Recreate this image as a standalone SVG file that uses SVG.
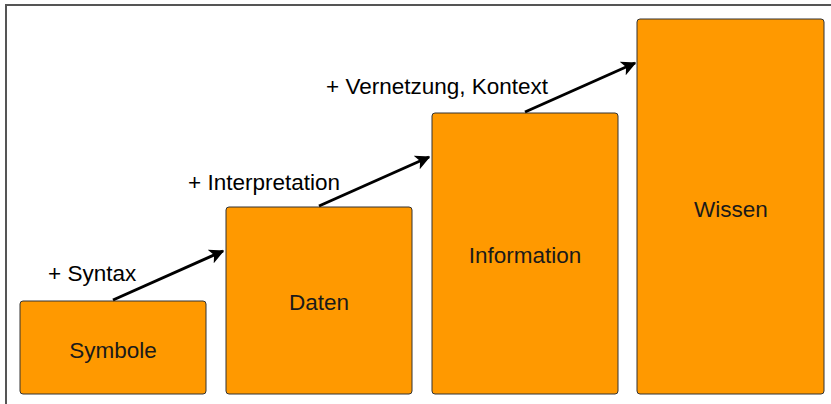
<svg xmlns="http://www.w3.org/2000/svg" width="831" height="404" viewBox="0 0 831 404">
  <style>
    .step { fill: #ff9900; stroke: #333333; stroke-width: 1; }
    .name { font-family: "Liberation Sans", Arial, sans-serif; font-size: 22.5px; fill: #1a1a1a; text-anchor: middle; }
    .label { font-family: "Liberation Sans", Arial, sans-serif; font-size: 22.5px; fill: #000000; }
    .link { stroke: #000000; stroke-width: 3; fill: none; marker-end: url(#head); }
  </style>
  <defs>
    <marker id="head" viewBox="0 0 10 10" refX="9" refY="5" markerWidth="5" markerHeight="5" orient="auto" markerUnits="strokeWidth">
      <path d="M0,0 L10,5 L0,10 L2.5,5 Z" fill="#000000"/>
    </marker>
  </defs>

  <rect x="0" y="0" width="831" height="404" fill="#ffffff"/>
  <!-- frame -->
  <path d="M6,404 L6,5 L831,5" fill="none" stroke="#555555" stroke-width="2"/>

  <g id="symbole">
    <rect class="step" x="20" y="301" width="186" height="93" rx="3"/>
    <text class="name" x="113" y="358">Symbole</text>
  </g>
  <g id="daten">
    <rect class="step" x="226" y="207" width="186" height="187" rx="3"/>
    <text class="name" x="319" y="310">Daten</text>
  </g>
  <g id="information">
    <rect class="step" x="432" y="113" width="186" height="281" rx="3"/>
    <text class="name" x="525" y="263">Information</text>
  </g>
  <g id="wissen">
    <rect class="step" x="637" y="19" width="187" height="375" rx="3"/>
    <text class="name" x="731" y="217">Wissen</text>
  </g>

  <g id="connectors">
    <line class="link" x1="113" y1="300" x2="223" y2="251"/>
    <line class="link" x1="319" y1="206" x2="429" y2="157"/>
    <line class="link" x1="525" y1="112" x2="635" y2="63"/>
  </g>

  <g id="labels">
    <text class="label" x="48" y="281">+ Syntax</text>
    <text class="label" x="188" y="190">+ Interpretation</text>
    <text class="label" x="326" y="94">+ Vernetzung, Kontext</text>
  </g>
</svg>
